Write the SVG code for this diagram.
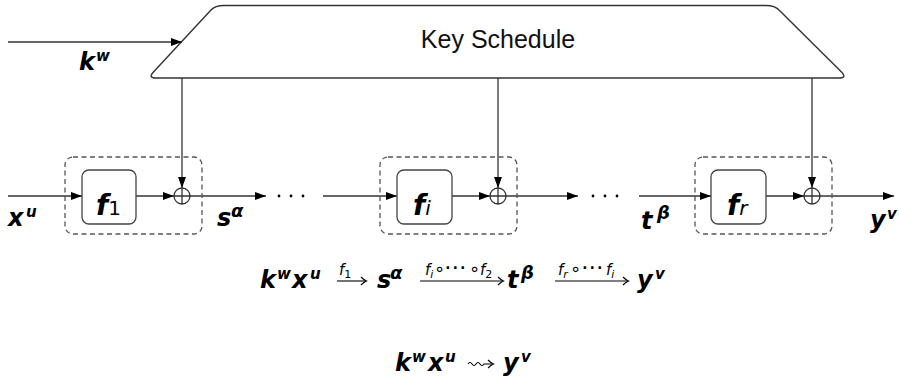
<svg xmlns="http://www.w3.org/2000/svg" width="899" height="379" viewBox="0 0 899 379">
<style>
.ln{stroke:#333;stroke-width:1.3;fill:none}
.ks{fill:#fff;stroke:#333;stroke-width:1.4}
.bx{fill:#fff;stroke:#444;stroke-width:1.3}
.dash{fill:none;stroke:#555;stroke-width:1.3;stroke-dasharray:5,3.5}
.xo{fill:#fff;stroke:#333;stroke-width:1.3}
.v{font-family:"DejaVu Sans",sans-serif;font-weight:bold;font-style:italic;font-size:24px;fill:#000}
.s{font-size:15px}
.g{font-size:18px}
.f{font-family:"DejaVu Sans",sans-serif;font-weight:bold;font-style:italic;font-size:28px;fill:#000}
.sub{font-family:"DejaVu Sans",sans-serif;font-weight:normal;font-style:normal;font-size:20px}
.subi{font-family:"DejaVu Sans",sans-serif;font-weight:normal;font-style:italic;font-size:20px}
.t{font-family:"Liberation Sans",Arial,sans-serif;font-size:25px;fill:#111}
.lab{font-family:"DejaVu Sans",sans-serif;font-style:italic;font-size:15px;fill:#000}
.lsub{font-size:11px}
.op{font-family:"DejaVu Sans",sans-serif;font-size:18px;fill:#000}
.el{font-family:"DejaVu Sans",sans-serif;font-size:23px;fill:#000}
.dots{fill:#000}
.oh{fill:none;stroke:#000;stroke-width:1.1}
</style>
<defs>
<marker id="arr" markerUnits="userSpaceOnUse" markerWidth="11" markerHeight="8" refX="11" refY="4" orient="auto">
<path d="M0,0 L11,4 L0,8 z" fill="#000"/>
</marker>
</defs>

<g id="keyschedule">
<path class="ks" d="M156,78 Q148,78 153,72.5 L211,10 Q215,5.5 224,5.5 L766,5.5 Q775,5.5 779,10 L842,72.5 Q847,78 839,78 Z"/>
<text class="t" x="498" y="48" text-anchor="middle">Key Schedule</text>
</g>

<g id="connectors">
<line class="ln" x1="8" y1="42" x2="182" y2="42" marker-end="url(#arr)"/>
<line class="ln" x1="182" y1="78" x2="182" y2="188" marker-end="url(#arr)"/>
<line class="ln" x1="498" y1="78" x2="498" y2="188" marker-end="url(#arr)"/>
<line class="ln" x1="812" y1="78" x2="812" y2="188" marker-end="url(#arr)"/>
<line class="ln" x1="8" y1="196" x2="82" y2="196" marker-end="url(#arr)"/>
<line class="ln" x1="136" y1="196" x2="174" y2="196" marker-end="url(#arr)"/>
<line class="ln" x1="190" y1="196" x2="266" y2="196" marker-end="url(#arr)"/>
<line class="ln" x1="323" y1="196" x2="397" y2="196" marker-end="url(#arr)"/>
<line class="ln" x1="452" y1="196" x2="490" y2="196" marker-end="url(#arr)"/>
<line class="ln" x1="506" y1="196" x2="578" y2="196" marker-end="url(#arr)"/>
<line class="ln" x1="639" y1="196" x2="711" y2="196" marker-end="url(#arr)"/>
<line class="ln" x1="766" y1="196" x2="804" y2="196" marker-end="url(#arr)"/>
<line class="ln" x1="820" y1="196" x2="894" y2="196" marker-end="url(#arr)"/>
</g>

<g id="round1">
<rect class="dash" x="65" y="157" width="137" height="77" rx="8"/>
<rect class="bx" x="82" y="170" width="54" height="54" rx="7"/>
<text class="f" x="96" y="215">f<tspan class="sub">1</tspan></text>
<circle class="xo" cx="182" cy="196" r="8"/>
<path class="ln" d="M174,196 H190 M182,188 V204"/>
</g>

<g id="roundi">
<rect class="dash" x="380" y="157" width="137" height="77" rx="8"/>
<rect class="bx" x="397" y="170" width="55" height="54" rx="7"/>
<text class="f" x="413" y="215">f<tspan class="subi">i</tspan></text>
<circle class="xo" cx="498" cy="196" r="8"/>
<path class="ln" d="M490,196 H506 M498,188 V204"/>
</g>

<g id="roundr">
<rect class="dash" x="695" y="157" width="137" height="77" rx="8"/>
<rect class="bx" x="711" y="170" width="55" height="54" rx="7"/>
<text class="f" x="727" y="215">f<tspan class="subi">r</tspan></text>
<circle class="xo" cx="812" cy="196" r="8"/>
<path class="ln" d="M804,196 H820 M812,188 V204"/>
</g>

<g id="dots">
<circle class="dots" cx="279" cy="196" r="1.4"/>
<circle class="dots" cx="291" cy="196" r="1.4"/>
<circle class="dots" cx="303" cy="196" r="1.4"/>
<circle class="dots" cx="593" cy="196" r="1.4"/>
<circle class="dots" cx="605" cy="196" r="1.4"/>
<circle class="dots" cx="617" cy="196" r="1.4"/>
</g>

<g id="labels">
<text class="v" x="79" y="70">k</text><text class="v s" x="96" y="61">w</text>
<text class="v" x="8" y="226">x</text><text class="v s" x="26" y="217">u</text>
<text class="v" x="217" y="226">s</text><text class="v g" x="231" y="217">α</text>
<text class="v" x="641" y="229">t</text><text class="v g" x="657" y="219">β</text>
<text class="v" x="870" y="228">y</text><text class="v s" x="887" y="219">v</text>
</g>

<g id="formula1">
<text class="v" x="260" y="288">k</text><text class="v s" x="277" y="279">w</text>
<text class="v" x="292" y="288">x</text><text class="v s" x="310" y="279">u</text>
<line class="oh" x1="337" y1="281" x2="366" y2="281"/>
<path class="oh" d="M361,277 Q364,280 366.5,281 Q364,282 361,285"/>
<text class="lab" x="339" y="275">f<tspan font-style="normal" class="lsub" dy="3">1</tspan></text>
<text class="v" x="377" y="288">s</text><text class="v g" x="390" y="279">α</text>
<line class="oh" x1="420" y1="281" x2="503" y2="281"/>
<path class="oh" d="M498,277 Q501,280 503.5,281 Q501,282 498,285"/>
<text class="lab" x="425" y="275">f<tspan class="lsub" dy="3">i</tspan></text>
<text class="op" x="434" y="275">∘</text>
<text class="el" x="444" y="275">⋯</text>
<text class="op" x="469" y="275">∘</text>
<text class="lab" x="480" y="275">f<tspan font-style="normal" class="lsub" dy="3">2</tspan></text>
<text class="v" x="507" y="288">t</text><text class="v g" x="521" y="279">β</text>
<line class="oh" x1="555" y1="281" x2="628" y2="281"/>
<path class="oh" d="M623,277 Q626,280 628.5,281 Q626,282 623,285"/>
<text class="lab" x="558" y="275">f<tspan class="lsub" dy="3">r</tspan></text>
<text class="op" x="570" y="275">∘</text>
<text class="el" x="581" y="275">⋯</text>
<text class="lab" x="606" y="275">f<tspan class="lsub" dy="3">i</tspan></text>
<text class="v" x="637" y="288">y</text><text class="v s" x="655" y="279">v</text>
</g>

<g id="formula2">
<text class="v" x="395" y="371">k</text><text class="v s" x="412" y="362">w</text>
<text class="v" x="428" y="371">x</text><text class="v s" x="445" y="362">u</text>
<path class="oh" d="M468,364 q2,-3 4,0 t4,0 t4,0 t4,0 l8,0"/>
<path class="oh" d="M488,360 Q491,363 493.5,364 Q491,365 488,368"/>
<text class="v" x="503" y="371">y</text><text class="v s" x="521" y="362">v</text>
</g>
</svg>
